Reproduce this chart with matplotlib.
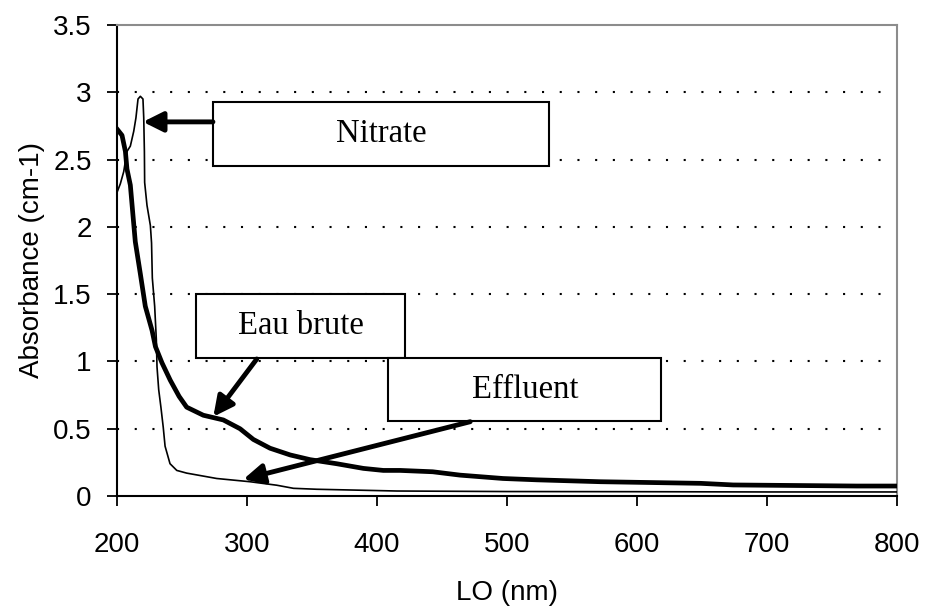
import matplotlib
matplotlib.use("Agg")
import matplotlib.pyplot as plt
from matplotlib.patches import Rectangle

# Nitrate (thin line)
nitrate_wl = [200, 202.8, 205.4, 207.9, 210.5, 213.1, 214.8, 216.4, 218.2, 220.2, 220.8,
              221.3, 221.5, 223.3, 225.9, 226.8, 227.4, 229.2, 230.5, 231.0, 232.3, 234.0,
              235.8, 237.2, 241.0, 246.2, 253.8, 276.9, 302.5, 323.1, 335.9, 353.8, 415.4,
              500, 600, 700, 800]
nitrate_abs = [2.25, 2.32, 2.41, 2.56, 2.60, 2.71, 2.81, 2.95, 2.97, 2.95, 2.81,
               2.56, 2.33, 2.16, 2.01, 1.88, 1.62, 1.41, 1.16, 0.96, 0.79, 0.66,
               0.51, 0.37, 0.24, 0.19, 0.17, 0.13, 0.106, 0.08, 0.057, 0.05, 0.037,
               0.033, 0.032, 0.03, 0.03]

# Eau brute (thick line)
eau_wl = [200, 204.1, 206.7, 207.9, 210.5, 212.3, 214.3, 218.2, 222, 227.2, 229.8, 234.8,
          241.2, 248, 253.8, 266.6, 282, 294.8, 305.1, 317.9, 333.4, 348.7, 369, 389.7,
          405, 418, 443, 464, 497, 523, 572, 649, 674, 769, 800]
eau_abs = [2.73, 2.68, 2.56, 2.43, 2.31, 2.11, 1.89, 1.65, 1.41, 1.23, 1.11, 0.99,
           0.86, 0.74, 0.66, 0.60, 0.565, 0.50, 0.42, 0.355, 0.305, 0.27, 0.24, 0.205,
           0.19, 0.19, 0.18, 0.155, 0.13, 0.12, 0.106, 0.094, 0.082, 0.074, 0.074]

x_ticks = [200, 300, 400, 500, 600, 700, 800]
y_ticks = [0, 0.5, 1, 1.5, 2, 2.5, 3, 3.5]
y_tick_labels = ["0", "0.5", "1", "1.5", "2", "2.5", "3", "3.5"]

# annotation labels: text, box (x0, y0, x1, y1), arrow start, arrow tip
labels = ["Nitrate", "Eau brute", "Effluent"]
boxes = [(274, 2.452, 532.5, 2.927), (261.3, 1.025, 421.8, 1.50), (408.9, 0.557, 618.7, 1.023)]
arrow_from = [(274, 2.78), (307.7, 1.018), (471.8, 0.552)]
arrow_to = [(220.2, 2.78), (274.3, 0.589), (297.4, 0.124)]

fig = plt.figure(figsize=(9.35, 6.14), dpi=100)
ax = fig.add_axes([0.1248, 0.1922, 0.9594 - 0.1248, 0.9593 - 0.1922])

sans = ["Liberation Sans", "DejaVu Sans"]
serif = ["Liberation Serif", "DejaVu Serif"]

for yv in [0.5, 1, 1.5, 2, 2.5, 3]:
    ax.axhline(yv, color="black", lw=1.5, linestyle=(0, (1, 7.5)), zorder=1)

ax.plot(nitrate_wl, nitrate_abs, color="black", lw=1.2, zorder=3)
ax.plot(eau_wl, eau_abs, color="black", lw=3.4, zorder=3)

for txt, (x0, y0, x1, y1), s, t in zip(labels, boxes, arrow_from, arrow_to):
    r = Rectangle((x0, y0), x1 - x0, y1 - y0, facecolor="white", edgecolor="black",
                  lw=1.5, zorder=5)
    ax.add_patch(r)
    ax.text((x0 + x1) / 2, (y0 + y1) / 2, txt, ha="center", va="center",
            fontsize=23.5, family=serif, zorder=6)
    ax.annotate("", xy=t, xytext=s,
                arrowprops=dict(arrowstyle="-|>", lw=3.5, color="black",
                                mutation_scale=30, shrinkA=0, shrinkB=0),
                zorder=6)

ax.set_xlim(200, 800)
ax.set_ylim(0, 3.5)
ax.set_xticks(x_ticks)
ax.set_xticklabels([str(v) for v in x_ticks], fontsize=20, family=sans)
ax.set_yticks(y_ticks)
ax.set_yticklabels(y_tick_labels, fontsize=20, family=sans)
ax.tick_params(axis="both", direction="out", length=7, width=1.3, color="black")
ax.tick_params(axis="x", pad=19)
ax.tick_params(axis="y", pad=11)

for side in ["left", "bottom"]:
    ax.spines[side].set_color("black")
    ax.spines[side].set_linewidth(1.5)
for side in ["top", "right"]:
    ax.spines[side].set_color("#8c8c8c")
    ax.spines[side].set_linewidth(1.5)

ax.set_xlabel("LO (nm)", fontsize=20, family=sans, labelpad=16)
ax.set_ylabel("Absorbance (cm-1)", fontsize=20, family=sans, labelpad=6)

fig.savefig("out.png", dpi=100, facecolor="white")
